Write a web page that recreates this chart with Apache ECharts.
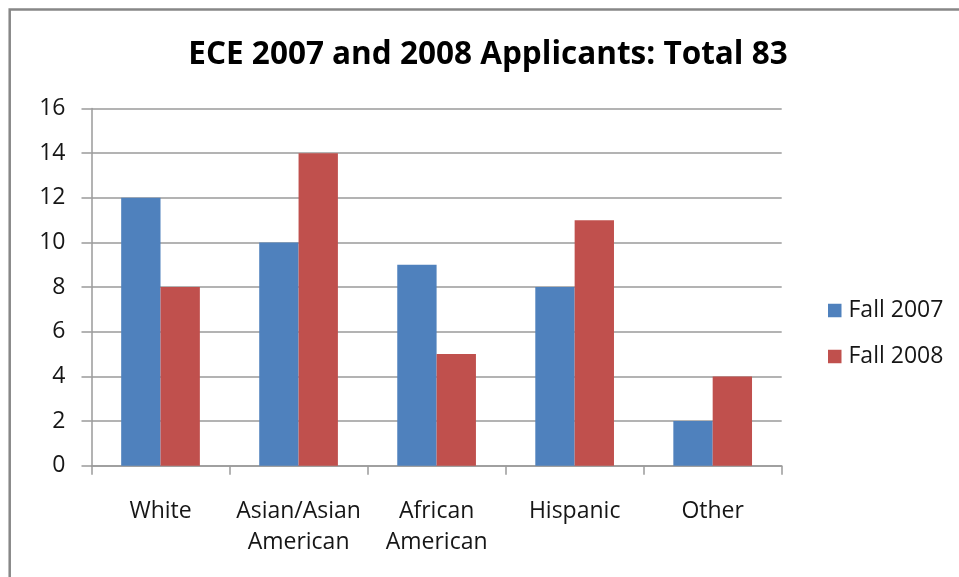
<!DOCTYPE html>
<html>
<head>
<meta charset="utf-8">
<script src="https://cdn.jsdelivr.net/npm/echarts@6/dist/echarts.min.js"></script>
<style>
  html, body { margin: 0; padding: 0; background: #fff; }
  #chart { width: 959px; height: 577px; }
</style>
</head>
<body>
<div id="chart"></div>
<script>
// Applicant counts by group, two admission years
const categories = ['White', 'Asian/Asian\nAmerican', 'African\nAmerican', 'Hispanic', 'Other'];
const fall2007 = [12, 10, 9, 8, 2];
const fall2008 = [8, 14, 5, 11, 4];
const seriesNames = ['Fall 2007', 'Fall 2008'];
const titleText = 'ECE 2007 and 2008 Applicants: Total 83';

const FONT = '"Open Sans", "Noto Sans", sans-serif';
const GRID_COLOR = '#9a9a9a';
const TEXT_COLOR = '#161616';

const chart = echarts.init(document.getElementById('chart'), null, { renderer: 'canvas' });

chart.setOption({
  animation: false,
  backgroundColor: '#ffffff',
  graphic: [{
    type: 'rect',
    shape: { x: 9.7, y: 9.5, width: 1000, height: 1000 },
    style: { fill: 'none', stroke: '#878787', lineWidth: 2.5 },
    silent: true
  }],
  title: {
    text: titleText,
    left: 483,
    top: 34,
    textAlign: 'center',
    textStyle: { fontFamily: FONT, fontWeight: 'bold', fontSize: 31.5, color: '#000' }
  },
  legend: {
    orient: 'vertical',
    left: 823,
    top: 294,
    itemWidth: 13.5,
    itemHeight: 13.5,
    itemGap: 23,
    icon: 'rect',
    textStyle: { fontFamily: FONT, fontSize: 23, color: TEXT_COLOR, padding: [0, 0, 0, 2] },
    data: seriesNames
  },
  grid: { left: 91.5, right: 177.3, top: 108.5, bottom: 111.3, containLabel: false },
  xAxis: {
    type: 'category',
    data: categories,
    axisLine: { lineStyle: { color: GRID_COLOR, width: 1.5 } },
    axisTick: { show: true, length: 9, lineStyle: { color: GRID_COLOR, width: 1.5 } },
    axisLabel: {
      fontFamily: FONT, fontSize: 23, color: TEXT_COLOR,
      margin: 30, lineHeight: 31, interval: 0
    }
  },
  yAxis: {
    type: 'value',
    min: 0, max: 16, interval: 2,
    axisLine: { show: true, lineStyle: { color: GRID_COLOR, width: 1.5 } },
    axisTick: { show: true, length: 10, lineStyle: { color: GRID_COLOR, width: 1.5 } },
    splitLine: { show: true, lineStyle: { color: GRID_COLOR, width: 1.5 } },
    axisLabel: { fontFamily: FONT, fontSize: 23, color: TEXT_COLOR, margin: 26 }
  },
  series: [
    {
      name: seriesNames[0], type: 'bar', data: fall2007,
      barGap: '0%', barCategoryGap: '43%',
      itemStyle: { color: '#4f81bd' }
    },
    {
      name: seriesNames[1], type: 'bar', data: fall2008,
      barGap: '0%', barCategoryGap: '43%',
      itemStyle: { color: '#c0504d' }
    }
  ]
});
</script>
</body>
</html>
